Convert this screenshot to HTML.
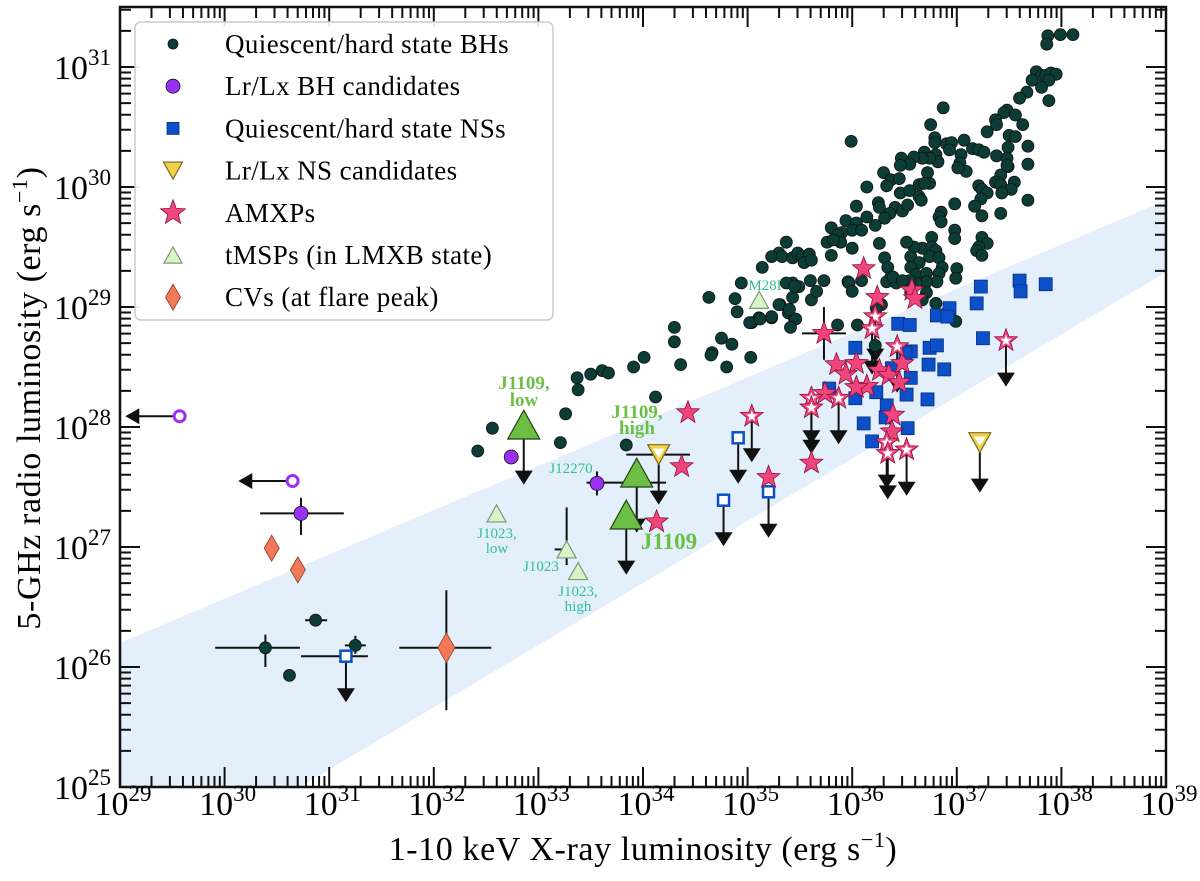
<!DOCTYPE html>
<html><head><meta charset="utf-8"><style>
body{margin:0;background:#fff}
svg{display:block;font-family:"Liberation Serif",serif}
</style></head><body>
<svg id="chart" width="1200" height="881" viewBox="0 0 1200 881" xmlns="http://www.w3.org/2000/svg">
<defs><clipPath id="plotclip"><rect x="120" y="7" width="1046" height="780"/></clipPath></defs>
<g id="band"></g>
<g id="errs"></g>
<g id="marks"></g>
<g id="axes"></g>
<g id="legend"></g>
<text x="643" y="860" font-size="34" letter-spacing="0.6" text-anchor="middle">1-10 keV X-ray luminosity (erg s<tspan dy="-13" font-size="22">−1</tspan><tspan dy="13">)</tspan></text>
<text transform="translate(40,398) rotate(-90)" font-size="34" letter-spacing="0.6" text-anchor="middle">5-GHz radio luminosity (erg s<tspan dy="-13" font-size="22">−1</tspan><tspan dy="13">)</tspan></text>
</svg>
<script>
// ---- data (log10 erg/s) ----
const xDecades=[29,30,31,32,33,34,35,36,37,38,39];
const yDecades=[25,26,27,28,29,30,31];
const bhX=[37.87,37.99,38.11,37.86,37.76,37.81,37.85,37.90,37.95,37.72,37.88,37.81,37.67,37.60,37.88,36.87,37.48,37.45,37.56,37.37,37.38,37.63,37.29,36.75,35.99,37.50,37.56,37.68,37.49,37.07,36.79,36.79,36.90,36.95,36.93,37.15,37.21,37.26,37.38,37.04,37.03,37.09,37.01,36.47,36.69,36.80,36.82,36.74,36.67,36.59,36.55,36.46,36.30,36.72,36.37,36.45,36.33,36.64,36.74,36.69,36.14,36.46,36.55,36.64,36.66,37.48,37.49,37.42,37.37,37.42,37.55,37.48,37.68,37.52,37.43,37.21,37.24,37.29,37.23,37.17,37.24,37.42,37.68,36.98,36.04,36.25,36.26,36.41,36.48,36.53,36.14,36.36,36.31,36.22,35.94,36.04,36.00,36.09,35.80,35.90,35.86,35.76,35.89,36.00,35.80,36.26,36.31,35.37,35.30,35.23,35.33,35.43,35.48,35.52,35.59,35.54,35.61,35.14,35.43,35.49,35.60,35.73,35.43,35.61,35.66,35.96,35.31,35.39,35.45,35.23,35.11,35.04,36.85,36.83,36.85,36.98,36.98,36.76,36.67,36.76,36.80,36.59,36.52,36.56,36.64,36.74,36.83,36.86,36.56,36.61,36.71,36.83,37.00,36.99,36.81,36.71,36.61,36.55,36.34,36.37,36.33,36.42,37.24,37.29,37.21,37.19,37.24,36.80,36.71,36.56,36.67,36.99,35.37,35.45,35.97,36.09,36.00,36.28,36.23,35.86,36.05,36.22,36.39,36.48,35.82,32.42,32.56,33.21,33.26,33.37,33.38,33.50,33.61,33.67,33.91,34.01,34.12,33.84,34.30,34.30,34.36,34.63,34.66,34.65,34.75,34.85,34.80,35.03,34.88,34.90,34.94,35.02,35.12,35.23,35.30,35.40,35.46,35.41,30.62];
const bhY=[31.26,31.27,31.27,31.19,30.96,30.93,30.93,30.95,30.94,30.89,30.89,30.83,30.79,30.74,30.72,30.66,30.64,30.62,30.60,30.56,30.52,30.52,30.46,30.52,30.38,30.43,30.42,30.34,30.33,30.39,30.41,30.37,30.36,30.37,30.31,30.32,30.31,30.29,30.26,30.27,30.20,30.13,30.16,30.24,30.29,30.27,30.21,30.24,30.24,30.25,30.19,30.18,30.12,30.12,30.06,30.07,30.01,30.02,30.03,30.03,30.00,29.95,29.97,29.92,29.89,30.24,30.17,30.10,30.04,30.02,30.04,30.18,30.19,29.98,29.95,30.01,29.98,29.95,29.90,29.84,29.76,29.78,29.89,29.86,29.84,29.87,29.83,29.83,29.80,29.85,29.75,29.78,29.74,29.68,29.72,29.70,29.64,29.64,29.66,29.62,29.60,29.54,29.54,29.49,29.43,29.53,29.41,29.54,29.45,29.42,29.42,29.41,29.45,29.42,29.44,29.37,29.39,29.33,29.20,29.17,29.22,29.22,29.08,29.06,29.13,29.21,29.02,28.95,28.90,28.91,28.91,28.87,29.79,29.75,29.71,29.64,29.57,29.58,29.49,29.50,29.47,29.50,29.54,29.42,29.37,29.42,29.41,29.33,29.33,29.27,29.28,29.28,29.32,29.24,29.21,29.21,29.20,29.22,29.33,29.25,29.21,29.20,29.58,29.53,29.50,29.47,29.43,29.03,29.12,29.12,29.06,28.88,29.20,29.17,29.20,29.22,29.13,29.02,28.99,28.85,28.85,28.68,29.25,29.22,29.56,27.80,27.99,27.87,28.11,28.41,28.31,28.44,28.47,28.45,28.50,28.58,28.25,27.85,28.83,28.71,28.52,29.08,28.62,28.60,28.74,28.69,28.50,28.58,29.07,28.96,29.20,28.87,28.90,28.92,29.02,28.98,28.90,28.83,25.93];
const bhErrX=[30.39,30.87,31.25];
const bhErrY=[26.16,26.39,26.18];
const bhErrXlo=[29.91,30.77,31.15];
const bhErrXhi=[30.72,30.98,31.35];
const bhErrYlo=[26.00,26.34,26.11];
const bhErrYhi=[26.27,26.44,26.26];
const bhcX=[32.74,33.56,30.73];
const bhcY=[27.75,27.53,27.28];
const bhcLimX=[29.57,30.65];
const bhcLimY=[28.09,27.55];
const nsX=[37.23,37.19,37.60,37.61,37.85,36.93,36.81,36.91,36.44,36.55,37.25,36.56,36.03,36.74,36.81,36.73,36.88,36.56,36.52,36.72,36.33,36.32,36.53,36.11,36.19,35.78,36.03,36.23,36.38,36.51];
const nsY=[29.17,29.03,29.22,29.13,29.19,28.99,28.93,28.92,28.86,28.85,28.74,28.63,28.66,28.66,28.68,28.52,28.48,28.41,28.27,28.23,28.18,28.08,27.99,28.03,27.88,28.32,28.24,28.29,28.49,28.62];
const nsLimX=[31.16,34.91,34.77,35.20];
const nsLimY=[26.09,27.91,27.39,27.46];
const nscX=[34.15,37.22];
const nscY=[27.77,27.87];
const amxX=[34.43,34.37,34.13,35.20,35.61,35.73,36.11,36.24,36.57,36.60,35.85,35.94,36.04,36.26,36.35,36.48,36.45,36.14,36.04,35.74,36.39,36.38];
const amxY=[28.12,27.67,27.21,27.58,27.70,28.78,29.32,29.08,29.14,29.07,28.52,28.44,28.53,28.47,28.43,28.53,28.37,28.34,28.33,28.28,28.10,27.96];
const amxLimX=[36.22,36.19,36.43,35.61,35.61,35.87,36.33,36.34,36.52,37.47,35.04];
const amxLimY=[28.92,28.82,28.67,28.24,28.16,28.24,27.87,27.78,27.81,28.72,28.09];
const tmspX=[35.11,32.60,33.27,33.38];
const tmspY=[29.06,27.28,26.98,26.80];
const tmspNames=["M28I","J1023, low","J1023","J1023, high"];
const j1109X=[32.86,33.94,33.84];
const j1109Y=[28.02,27.62,27.27];
const cvX=[30.45,30.70,32.12];
const cvY=[26.99,26.81,26.16];
const cvXlo=[null,null,31.67];
const cvXhi=[null,null,32.55];
const cvYlo=[null,null,25.64];
const cvYhi=[null,null,26.64];
const bandTop=[26.20,29.89];
const bandBot=[24.11,29.29];

const X0=120,X1=1166,Y0=787,Y1=7;
const sx=v=>X0+(v-29)*(X1-X0)/10;
const sy=v=>Y0-(v-25)*120;
const NS="http://www.w3.org/2000/svg";
function mk(tag,attrs,parent){const e=document.createElementNS(NS,tag);for(const k in attrs)e.setAttribute(k,attrs[k]);parent.appendChild(e);return e;}
const gB=document.getElementById('band'),gE=document.getElementById('errs'),gM=document.getElementById('marks'),gA=document.getElementById('axes'),gL=document.getElementById('legend');

let bp=mk('polygon',{points:`${sx(29)},${sy(bandTop[0])} ${sx(39)},${sy(bandTop[1])} ${sx(39)},${sy(bandBot[1])} ${sx(29)},${sy(bandBot[0])}`,fill:'#e3f0fc','clip-path':'url(#plotclip)'},gB);



function line(x1,y1,x2,y2,w){return mk('line',{x1,y1,x2,y2,stroke:'#111','stroke-width':w||2},gE);}
function downArrow(px,py,len){line(px,py,px,py+len-10);const p=mk('polygon',{points:`${px-9},${py+len-12} ${px+9},${py+len-12} ${px},${py+len+2}`,fill:'#111'},gE);}
function leftArrow(px,py,len){line(px,py,px-len+10,py);const p=mk('polygon',{points:`${px-len+12},${py-8} ${px-len+12},${py+8} ${px-len-2},${py}`,fill:'#111'},gE);}
function circle(px,py,r,fill,parent){return mk('circle',{cx:px,cy:py,r,fill,stroke:'#111','stroke-width':0.8},parent||gM);}
function square(px,py,s,fill,stroke,sw,parent){return mk('rect',{x:px-s/2,y:py-s/2,width:s,height:s,fill,stroke,'stroke-width':sw},parent||gM);}
function starPts(px,py,R){const r=R*0.42;let pts=[];for(let i=0;i<10;i++){const a=-Math.PI/2+i*Math.PI/5,rr=i%2?r:R;pts.push((px+rr*Math.cos(a)).toFixed(1)+','+(py+rr*Math.sin(a)).toFixed(1));}return pts.join(' ');}
function star(px,py,R,open,parent){const p=mk('polygon',{points:starPts(px,py,R),fill:'#f0457a',stroke:'#8a1040','stroke-width':0.8},parent||gM);if(open){mk('polygon',{points:starPts(px,py,R*0.5),fill:'#fff'},parent||gM);}return p;}
function tri(px,py,s,fill,stroke,down,parent){const h=s*0.9;const pts=down?`${px-s/2},${py-h/2} ${px+s/2},${py-h/2} ${px},${py+h/2}`:`${px-s/2},${py+h/2} ${px+s/2},${py+h/2} ${px},${py-h/2}`;return mk('polygon',{points:pts,fill,stroke,'stroke-width':1.2},parent||gM);}
function diamond(px,py,w,h,parent){return mk('polygon',{points:`${px},${py-h/2} ${px+w/2},${py} ${px},${py+h/2} ${px-w/2},${py}`,fill:'#f2785a',stroke:'#8a3a20','stroke-width':0.8},parent||gM);}

for(let i=0;i<bhErrX.length;i++){line(sx(bhErrXlo[i]),sy(bhErrY[i]),sx(bhErrXhi[i]),sy(bhErrY[i]));line(sx(bhErrX[i]),sy(bhErrYlo[i]),sx(bhErrX[i]),sy(bhErrYhi[i]));}
for(let i=0;i<cvX.length;i++){if(cvXlo[i]!==null){line(sx(cvXlo[i]),sy(cvY[i]),sx(cvXhi[i]),sy(cvY[i]));line(sx(cvX[i]),sy(cvYlo[i]),sx(cvX[i]),sy(cvYhi[i]));}}
line(sx(30.34),sy(bhcY[2]),sx(31.14),sy(bhcY[2]));line(sx(bhcX[2]),sy(27.41),sx(bhcX[2]),sy(27.10));
line(sx(bhcX[1]),sy(27.63),sx(bhcX[1]),sy(27.43));
for(let i=0;i<bhcLimX.length;i++)leftArrow(sx(bhcLimX[i]),sy(bhcLimY[i]),sx(bhcLimX[i])-sx(bhcLimX[i]-0.5));
for(let i=0;i<nsLimX.length;i++)downArrow(sx(nsLimX[i]),sy(nsLimY[i]),44);
line(sx(30.73),sy(nsLimY[0]),sx(31.37),sy(nsLimY[0]));
for(let i=0;i<nscX.length;i++)downArrow(sx(nscX[i]),sy(nscY[i]),48);
line(sx(33.84),sy(nscY[0]),sx(34.45),sy(nscY[0]));
for(let i=0;i<amxLimX.length;i++)downArrow(sx(amxLimX[i]),sy(amxLimY[i]),44);
for(let i=0;i<j1109X.length;i++)downArrow(sx(j1109X[i]),sy(j1109Y[i]),58);
line(sx(33.46),sy(j1109Y[1])+10,sx(34.22),sy(j1109Y[1])+10);
line(sx(tmspX[2]),sy(27.33),sx(tmspX[2]),sy(26.85));line(sx(tmspX[2])-12,sy(tmspY[2]),sx(tmspX[2]),sy(tmspY[2]));
line(sx(35.52),sy(28.78),sx(35.94),sy(28.78));line(sx(35.73),sy(29.0),sx(35.73),sy(28.56));

for(let i=0;i<bhX.length;i++){const c=circle(sx(bhX[i]),sy(bhY[i]),6,'#0b3d36');

}
for(let i=0;i<bhErrX.length;i++){const c=circle(sx(bhErrX[i]),sy(bhErrY[i]),6,'#0b3d36');

}
for(let i=0;i<nsX.length;i++){const s=square(sx(nsX[i]),sy(nsY[i]),13,'#0b50c8','#072e80',0.8);

}
for(let i=0;i<nsLimX.length;i++){const s=square(sx(nsLimX[i]),sy(nsLimY[i]),11,'#fff','#0b50c8',2.5);

}
for(let i=0;i<nscX.length;i++){const t=tri(sx(nscX[i]),sy(nscY[i]),22,'#f2d04a','#7a6a20',true);mk('polygon',{points:`${sx(nscX[i])-6},${sy(nscY[i])-6} ${sx(nscX[i])+6},${sy(nscY[i])-6} ${sx(nscX[i])},${sy(nscY[i])+3}`,fill:'#fff'},gM);

}
for(let i=0;i<bhcX.length;i++){const c=circle(sx(bhcX[i]),sy(bhcY[i]),7,'#9b30f5');

}
for(let i=0;i<bhcLimX.length;i++){const c=mk('circle',{cx:sx(bhcLimX[i]),cy:sy(bhcLimY[i]),r:5.5,fill:'#fff',stroke:'#9b30f5','stroke-width':3},gM);

}
for(let i=0;i<amxX.length;i++){const s=star(sx(amxX[i]),sy(amxY[i]),12,false);

}
for(let i=0;i<amxLimX.length;i++){const s=star(sx(amxLimX[i]),sy(amxLimY[i]),12,true);

}
for(let i=0;i<tmspX.length;i++){const t=tri(sx(tmspX[i]),sy(tmspY[i]),19,'#d8f5c8','#7a9a78',false);

}
for(let i=0;i<j1109X.length;i++){const t=tri(sx(j1109X[i]),sy(j1109Y[i]),32,'#6cbf45','#204010',false);

}
for(let i=0;i<cvX.length;i++){const big=i===2;const d=diamond(sx(cvX[i]),sy(cvY[i]),big?17:15,big?30:26);

}

function lab(txt,x,y,size,col,bold){const t=mk('text',{x,y,'font-size':size,fill:col,'text-anchor':'middle','font-weight':bold?'bold':'normal'},gM);t.textContent=txt;return t;}
const tl=[["M28I",765,290,15,'#2fbf8a'],["J1023,",497,538,15,'#2fbfa0'],["low",497,553,15,'#2fbfa0'],["J1023",541,571,15,'#2fbf8a'],["J1023,",578,596,15,'#2fbfa0'],["high",578,611,15,'#2fbfa0'],["J12270",571,473,15,'#2fbf8a']];
for(const a of tl){const t=lab(a[0],a[1],a[2],a[3],a[4],false);

}
const jl=[["J1109,",524,389,19],["low",524,406,19],["J1109,",637,418,19],["high",637,434,19],["J1109",669,549,23]];
for(const a of jl){const t=lab(a[0],a[1],a[2],a[3],'#6cbf45',true);

}

const fr=mk('rect',{x:X0,y:Y1,width:X1-X0,height:Y0-Y1,fill:'none',stroke:'#111','stroke-width':2.5},gA);


for(const d of xDecades){for(let m=1;m<10;m++){const v=d+Math.log10(m);if(v>39)break;const px=sx(v);const L=m===1?20:11;mk('line',{x1:px,y1:Y0,x2:px,y2:Y0-L,stroke:'#111','stroke-width':2},gA);mk('line',{x1:px,y1:Y1,x2:px,y2:Y1+L,stroke:'#111','stroke-width':2},gA);}
const t=mk('text',{x:sx(d)+3,y:815,'font-size':34,'text-anchor':'middle'},gA);t.innerHTML=`10<tspan dy="-14" font-size="23">${d}</tspan>`;

}
for(const d of yDecades){for(let m=1;m<10;m++){const v=d+Math.log10(m);if(v>31.5)break;const py=sy(v);const L=m===1?20:11;mk('line',{x1:X0,y1:py,x2:X0+L,y2:py,stroke:'#111','stroke-width':2},gA);mk('line',{x1:X1,y1:py,x2:X1-L,y2:py,stroke:'#111','stroke-width':2},gA);}
const t=mk('text',{x:111,y:sy(d)+12,'font-size':34,'text-anchor':'end'},gA);t.innerHTML=`10<tspan dy="-14" font-size="23">${d}</tspan>`;

}

const lb=mk('rect',{x:135,y:22,width:418,height:298,rx:6,fill:'rgba(255,255,255,0.9)',stroke:'#ccc','stroke-width':1.5},gL);


const legendLabels=["Quiescent/hard state BHs","Lr/Lx BH candidates","Quiescent/hard state NSs","Lr/Lx NS candidates","AMXPs","tMSPs (in LMXB state)","CVs (at flare peak)"];
legendLabels.forEach((s,i)=>{const y=44+i*42.2,x=173;
if(i===0)circle(x,y,5,'#0b3d36',gL);
if(i===1)circle(x,y,7,'#9b30f5',gL);
if(i===2)square(x,y,12,'#0b50c8','#072e80',0.8,gL);
if(i===3)tri(x,y,19,'#f2d04a','#7a6a20',true,gL);
if(i===4)star(x,y,13,false,gL);
if(i===5)tri(x,y,18,'#d8f5c8','#7a9a78',false,gL);
if(i===6)diamond(x,y,15,26,gL);
const t=mk('text',{x:225,y:y+9,'font-size':27,'letter-spacing':0.4},gL);t.textContent=s;

});
</script>
</body></html>
